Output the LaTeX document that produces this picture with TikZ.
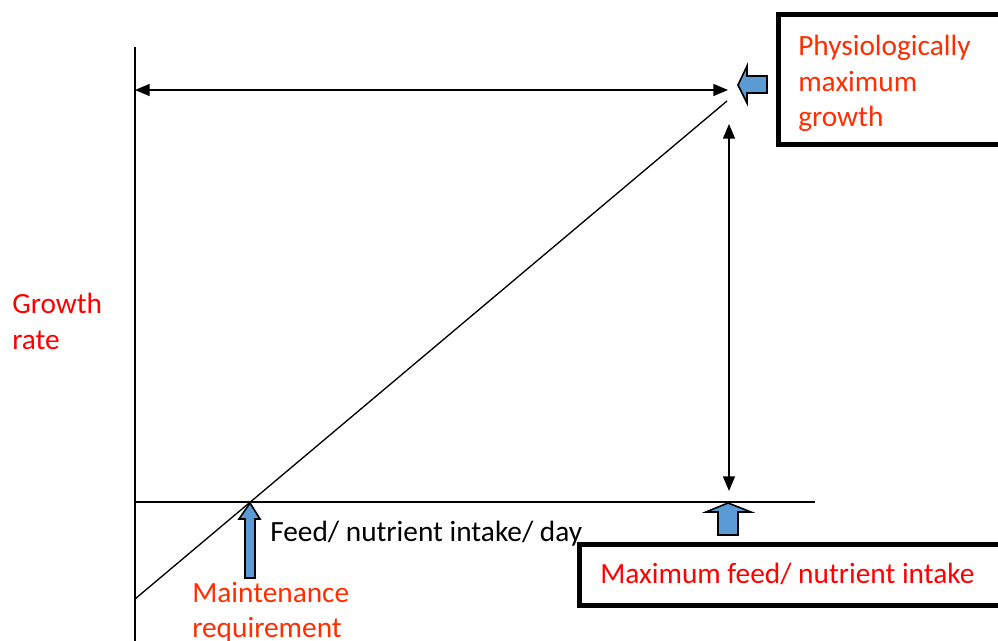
\documentclass[tikz,border=0pt]{standalone}
\usepackage{fontspec}
\setmainfont{Carlito}
\usetikzlibrary{arrows.meta}
\definecolor{lblred}{RGB}{255,0,0}
\definecolor{lblorange}{RGB}{255,45,0}
\definecolor{blockblue}{RGB}{91,155,213}

\begin{document}
\begin{tikzpicture}[x=0.75pt,y=-0.75pt,
  axisline/.style={line width=1.5pt},
  plotline/.style={line width=1pt},
  dimarrow/.style={line width=1pt,{Triangle[length=11pt,width=9pt]}-{Triangle[length=11pt,width=9pt]}},
  labelbox/.style={draw,line width=3.75pt,inner sep=0,anchor=north west},
  lbl/.style={font=\fontsize{22}{26.6}\selectfont,inner sep=0,align=left},
  blockarrow/.style={draw=black,line width=1.2pt,fill=blockblue,line join=miter}]

\useasboundingbox (0,0) rectangle (998,641);
\clip (0,0) rectangle (998,641);

% axes
\coordinate (ytop) at (135,47);
\coordinate (ybot) at (135,641);
\coordinate (xleft) at (135,502);
\coordinate (xright) at (815,502);
\draw[axisline] (ytop) -- (ybot);
\draw[plotline] (xleft) -- (xright);

% growth response line
\coordinate (lstart) at (135,599);
\coordinate (lend) at (727,101);
\draw[plotline] (lstart) -- (lend);

% dimension arrows
\coordinate (hleft) at (135,90);
\coordinate (hright) at (728,90);
\draw[dimarrow] (hleft) -- (hright);
\coordinate (vtop) at (729,124);
\coordinate (vbot) at (729,491);
\draw[dimarrow] (vtop) -- (vbot);

% label boxes (anchored at the outer edge of the frame)
\node[labelbox,minimum width=181.5pt,minimum height=97.5pt] (pmgbox) at (776,12) {};
\node[labelbox,minimum width=330.75pt,minimum height=45.75pt] (maxbox) at (577,542) {};

% block arrows
\draw[blockarrow] (738,85) -- (747,66) -- (747,76) -- (767,76) -- (767,93) -- (747,93) -- (747,103) -- cycle;
\draw[blockarrow] (728,503) -- (751,512) -- (738,512) -- (738,535) -- (718,535) -- (718,512) -- (706,512) -- cycle;
\draw[blockarrow] (250,503) -- (260,519) -- (255,519) -- (255,578) -- (245,578) -- (245,519) -- (239,519) -- cycle;

% texts
\node[lbl,text=lblorange,anchor=north west] (pmgtext) at (798,35) {Physiologically\\maximum\\growth};
\node[lbl,text=lblred,anchor=north west] (growth) at (12,293) {Growth\\rate};
\node[lbl,text=lblorange,anchor=north west] (maint) at (192,582) {Maintenance\\requirement};
\node[lbl,anchor=base west] (feed) at (270,541) {Feed/ nutrient intake/ day};
\node[lbl,text=lblred,anchor=base west] (maxtext) at (600,583) {Maximum feed/ nutrient intake};
\end{tikzpicture}
\end{document}
